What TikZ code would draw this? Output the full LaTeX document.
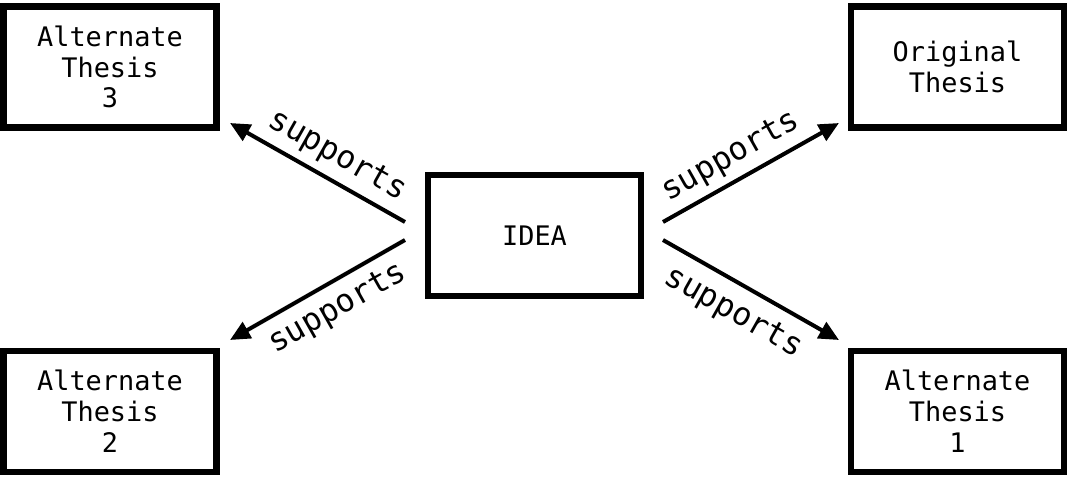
\documentclass[tikz,border=0pt]{standalone}
\usepackage{fontspec}
\setmonofont{DejaVu Sans Mono}
\usetikzlibrary{arrows.meta,calc}
\begin{document}
\begin{tikzpicture}[x=1bp,y=-1bp,
  thesisbox/.style={draw, line width=6.5bp, rectangle, minimum width=213bp, minimum height=121bp,
    inner sep=0pt, outer sep=0pt, align=center, font=\ttfamily\fontsize{27}{31}\selectfont},
  ideabox/.style={thesisbox, line width=6bp},
  supportarrow/.style={line width=4bp, -{Triangle[length=20bp,width=18bp]}},
  supportlabel/.style={font=\ttfamily\fontsize{32}{36}\selectfont, inner sep=0pt}]
\useasboundingbox (0,0) rectangle (1069,478);
\fill[white] (0,0) rectangle (1069,478);
\node[thesisbox] (alt3) at (110,67) {Alternate\\Thesis\\3};
\node[thesisbox] (orig) at (957.5,67) {Original\\Thesis};
\node[thesisbox] (alt2) at (110,411.5) {Alternate\\Thesis\\2};
\node[thesisbox] (alt1) at (957.5,411.5) {Alternate\\Thesis\\1};
\node[ideabox] (idea) at (534.5,235.5) {IDEA};
\coordinate (sTL) at (405,222);
\coordinate (sBL) at (405,240);
\coordinate (sTR) at (663,222);
\coordinate (sBR) at (663,240);
\coordinate (tTL) at (230,123);
\coordinate (tBL) at (230,340);
\coordinate (tTR) at (839,123);
\coordinate (tBR) at (839,340);
\draw[supportarrow] (sTL) -- (tTL);
\draw[supportarrow] (sBL) -- (tBL);
\draw[supportarrow] (sTR) -- (tTR);
\draw[supportarrow] (sBR) -- (tBR);
\node[supportlabel, rotate=-29.5] (lTL) at (337,156) {supports};
\node[supportlabel, rotate=29.5] (lBL) at (338,309) {supports};
\node[supportlabel, rotate=29.5] (lTR) at (731,157) {supports};
\node[supportlabel, rotate=-29.5] (lBR) at (733,313) {supports};
\end{tikzpicture}
\end{document}
